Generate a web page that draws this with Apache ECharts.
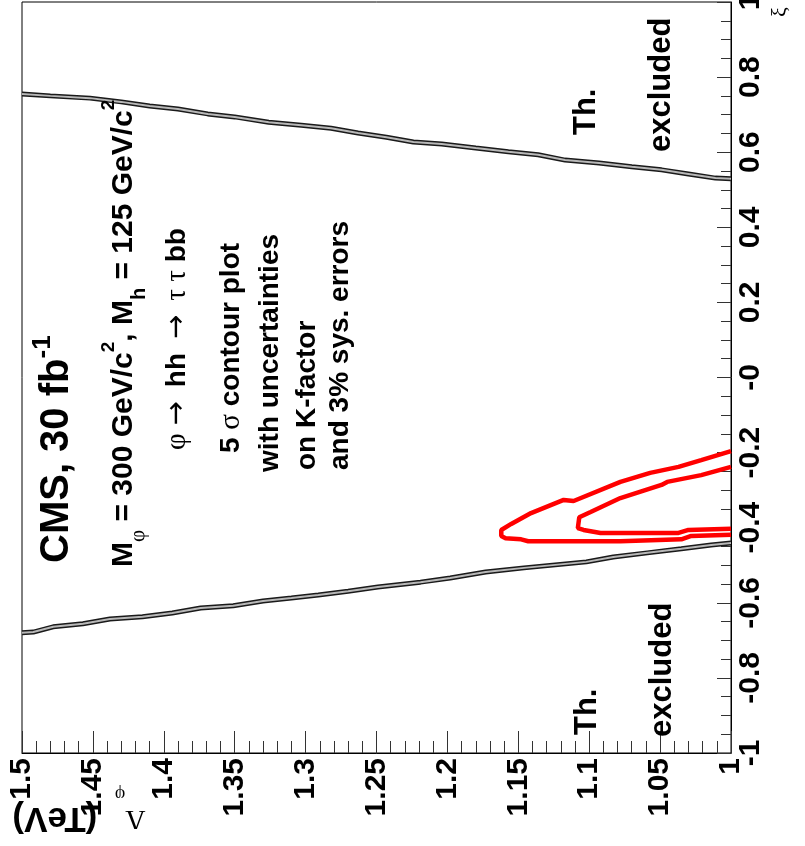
<!DOCTYPE html>
<html><head><meta charset="utf-8">
<script src="https://cdn.jsdelivr.net/npm/echarts@6/dist/echarts.min.js"></script>
<style>html,body{margin:0;padding:0;background:#fff}#c{width:805px;height:846px}</style>
</head><body><div id="c"></div>
<script>
// ---- tick values / labels ----
const lambdaTicks = [1, 1.05, 1.1, 1.15, 1.2, 1.25, 1.3, 1.35, 1.4, 1.45, 1.5];
const lambdaLabels = ['1', '1.05', '1.1', '1.15', '1.2', '1.25', '1.3', '1.35', '1.4', '1.45', '1.5'];
const xiTicks = [-1, -0.8, -0.6, -0.4, -0.2, 0, 0.2, 0.4, 0.6, 0.8, 1];
const xiLabels = ['-1', '-0.8', '-0.6', '-0.4', '-0.2', '-0', '0.2', '0.4', '0.6', '0.8', '1'];

// ---- theoretical exclusion line, positive xi (Lambda in TeV, xi) ----
const upperLambda = [1.500, 1.480, 1.452, 1.430, 1.410, 1.390, 1.369, 1.350, 1.326, 1.303, 1.282, 1.263, 1.243, 1.224, 1.204, 1.180, 1.157, 1.136, 1.117, 1.093, 1.070, 1.049, 1.030, 1.011, 1.000];
const upperXi     = [0.755, 0.750, 0.744, 0.734, 0.723, 0.715, 0.702, 0.694, 0.680, 0.672, 0.664, 0.651, 0.640, 0.627, 0.622, 0.611, 0.601, 0.593, 0.579, 0.571, 0.561, 0.553, 0.542, 0.531, 0.529];

// ---- theoretical exclusion line, negative xi ----
const lowerLambda = [1.500, 1.492, 1.478, 1.457, 1.438, 1.415, 1.394, 1.374, 1.351, 1.330, 1.310, 1.291, 1.270, 1.249, 1.219, 1.198, 1.173, 1.146, 1.124, 1.102, 1.083, 1.059, 1.035, 1.014, 1.000];
const lowerXi     = [-0.680, -0.678, -0.664, -0.656, -0.643, -0.637, -0.627, -0.614, -0.608, -0.595, -0.587, -0.579, -0.569, -0.558, -0.545, -0.534, -0.518, -0.507, -0.499, -0.491, -0.478, -0.467, -0.456, -0.446, -0.441];

// ---- 5 sigma contour: outer curve ----
const outerLambda = [1.000, 1.021, 1.037, 1.057, 1.078, 1.111, 1.118, 1.141, 1.155, 1.162, 1.162, 1.159, 1.148, 1.143, 1.078, 1.035, 1.028, 1.000];
const outerXi     = [-0.196, -0.220, -0.238, -0.254, -0.278, -0.329, -0.326, -0.361, -0.390, -0.406, -0.422, -0.428, -0.431, -0.436, -0.436, -0.431, -0.422, -0.419];

// ---- 5 sigma contour: inner curve ----
const innerLambda = [1.000, 1.021, 1.045, 1.049, 1.078, 1.099, 1.107, 1.108, 1.104, 1.092, 1.037, 1.030, 1.000];
const innerXi     = [-0.238, -0.260, -0.278, -0.286, -0.321, -0.358, -0.372, -0.401, -0.406, -0.414, -0.414, -0.406, -0.403];

function pairs(xs, ys) { return xs.map((x, i) => [x, ys[i]]); }
function lab(ticks, labels) {
  return function (v) {
    const i = ticks.findIndex(t => Math.abs(t - v) < 1e-6);
    return i >= 0 ? labels[i] : '';
  };
}

const SANS = '"Liberation Sans", Arial, Helvetica, sans-serif';
const SERIF = '"Liberation Serif", "Times New Roman", serif';
const chart = echarts.init(document.getElementById('c'), null, { renderer: 'canvas' });

function rtext(x, y, text, size, lineHeight, rich) {
  return {
    type: 'text', x: x, y: y, rotation: Math.PI / 2, z: 100,
    style: {
      text: text, fill: '#000', align: 'left', verticalAlign: 'middle',
      fontFamily: SANS, fontWeight: 'bold', fontSize: size, lineHeight: lineHeight,
      rich: rich || {}
    }
  };
}

const richInfo = {
  g: { fontFamily: SERIF, fontWeight: 'normal', fontSize: 29, fill: '#000' },
  ar: { fontFamily: '"DejaVu Sans", sans-serif', fontWeight: 'normal', fontSize: 29, fill: '#000' },
  sub: { fontFamily: SANS, fontWeight: 'bold', fontSize: 20, verticalAlign: 'bottom', fill: '#000' },
  subg: { fontFamily: SERIF, fontWeight: 'normal', fontSize: 21, verticalAlign: 'bottom', fill: '#000' },
  sup: { fontFamily: SANS, fontWeight: 'bold', fontSize: 19, verticalAlign: 'top', fill: '#000' }
};

const option = {
  animation: false,
  backgroundColor: '#fff',
  grid: { left: 22, right: 74, top: 2, bottom: 93, containLabel: false, outerBoundsMode: 'none',
          show: true, borderColor: '#000', borderWidth: 1, backgroundColor: 'transparent' },
  xAxis: {
    type: 'value', min: 1, max: 1.5, interval: 0.05, inverse: true, position: 'bottom',
    axisLine: { show: true, onZero: false, lineStyle: { color: '#000', width: 1 } },
    axisTick: { show: true, inside: true, length: 22, lineStyle: { color: '#333', width: 1 } },
    minorTick: { show: true, splitNumber: 5, length: 12, lineStyle: { color: '#333', width: 1 } },
    splitLine: { show: false },
    axisLabel: { rotate: 90, margin: 5, color: '#000', fontFamily: SANS, fontWeight: 'bold', fontSize: 30,
                 formatter: lab(lambdaTicks, lambdaLabels), showMinLabel: true, showMaxLabel: true }
  },
  yAxis: {
    type: 'value', min: -1, max: 1, interval: 0.2, position: 'right',
    axisLine: { show: true, onZero: false, lineStyle: { color: '#000', width: 1 } },
    axisTick: { show: true, inside: true, length: 14, lineStyle: { color: '#333', width: 1 } },
    minorTick: { show: true, splitNumber: 4, length: 10, lineStyle: { color: '#333', width: 1 } },
    splitLine: { show: false },
    axisLabel: { rotate: 90, margin: 5, color: '#000', fontFamily: SANS, fontWeight: 'bold', fontSize: 30,
                 formatter: lab(xiTicks, xiLabels), showMinLabel: true, showMaxLabel: true }
  },
  series: [
    { type: 'line', data: pairs(upperLambda, upperXi), showSymbol: false, silent: true, z: 2,
      lineStyle: { color: '#1a1a1a', width: 5 } },
    { type: 'line', data: pairs(upperLambda, upperXi), showSymbol: false, silent: true, z: 3,
      lineStyle: { color: '#b8b8b8', width: 2 } },
    { type: 'line', data: pairs(lowerLambda, lowerXi), showSymbol: false, silent: true, z: 2,
      lineStyle: { color: '#1a1a1a', width: 5 } },
    { type: 'line', data: pairs(lowerLambda, lowerXi), showSymbol: false, silent: true, z: 3,
      lineStyle: { color: '#b8b8b8', width: 2 } },
    { type: 'line', data: pairs(outerLambda, outerXi), showSymbol: false, silent: true, z: 4,
      lineStyle: { color: '#ff0000', width: 4.5 } },
    { type: 'line', data: pairs(innerLambda, innerXi), showSymbol: false, silent: true, z: 4,
      lineStyle: { color: '#ff0000', width: 4.5 } }
  ],
  graphic: [
    rtext(57, 563, 'CMS, 30 fb{sup|-1}', 40, 54,
      { sup: { fontFamily: SANS, fontWeight: 'bold', fontSize: 26, verticalAlign: 'top', fill: '#000' } }),
    rtext(124, 567, 'M{subg|φ} = 300 GeV/c{sup|2}, M{sub|h} = 125 GeV/c{sup|2}', 30, 50, richInfo),
    rtext(177, 450, '{g|φ} {ar|→}\u2002hh\u2002{ar|→}\u2002{g|τ τ} bb', 28, 48, richInfo),
    rtext(231, 453, '5 {g|σ} contour plot', 28, 48, richInfo),
    rtext(270, 472, 'with uncertainties', 28, 48, richInfo),
    rtext(307, 470, 'on K-factor', 28, 48, richInfo),
    rtext(340, 470, 'and 3% sys. errors', 28, 48, richInfo),
    rtext(586, 135, 'Th.', 31, 36),
    rtext(661, 152, 'excluded', 31, 36),
    rtext(587, 735, 'Th.', 31, 36),
    rtext(662, 737, 'excluded', 31, 36),
    {
      type: 'text', x: 780, y: 12, rotation: Math.PI / 2, z: 100,
      style: { text: 'ξ', fill: '#000', align: 'center', verticalAlign: 'middle',
               fontFamily: SERIF, fontSize: 22 }
    },
    {
      type: 'text', x: 79, y: 818, rotation: Math.PI, z: 100,
      style: {
        text: '{g|Λ}{sub|φ}\u2002(TeV)', fill: '#000', align: 'center', verticalAlign: 'middle',
        fontFamily: SANS, fontWeight: 'bold', fontSize: 35, lineHeight: 66,
        rich: {
          g: { fontFamily: SERIF, fontWeight: 'normal', fontSize: 28, fill: '#000' },
          sub: { fontFamily: SERIF, fontWeight: 'normal', fontSize: 18, verticalAlign: 'bottom', fill: '#000' }
        }
      }
    }
  ]
};
chart.setOption(option);
</script>
</body></html>
